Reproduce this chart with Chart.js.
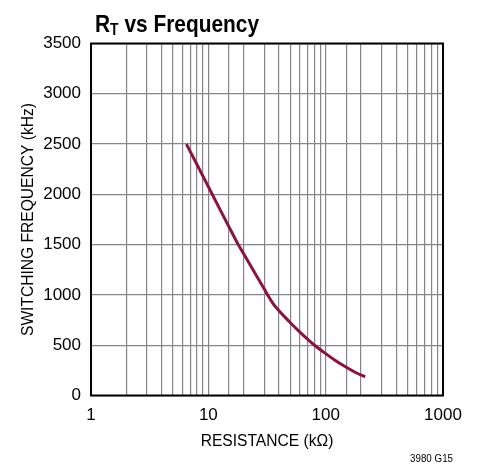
<!DOCTYPE html>
<html>
<head>
<meta charset="utf-8">
<script src="https://cdn.jsdelivr.net/npm/chart.js@4.4.1/dist/chart.umd.min.js"></script>
<style>
  html, body { margin: 0; padding: 0; background: #fff; }
  #wrap { position: relative; width: 478px; height: 467px; }
</style>
</head>
<body>
<div id="wrap"><canvas id="c" width="478" height="467"></canvas></div>
<script>
// ---- data ----
const resistance = [6.5, 8, 10, 12, 15, 18, 20, 25, 30, 32, 36, 40, 45, 50, 60, 70, 81, 100, 120, 150, 180, 217];
const frequency  = [2500, 2297, 2077, 1896, 1677, 1500, 1410, 1216, 1058, 1000, 905, 843, 779, 724, 633, 561, 497, 416, 351, 281, 229, 185];
const xTickLabels = [1, 10, 100, 1000];
const yTicks = { min: 0, max: 3500, step: 500 };
const titleMain = "R";
const titleSub = "T";
const titleRest = " vs Frequency";
const xTitle = "RESISTANCE (k\u03A9)";
const yTitle = "SWITCHING FREQUENCY (kHz)";
const noteText = "3980 G15";

const FONT = "'Liberation Sans', Arial, Helvetica, sans-serif";

const points = resistance.map((r, i) => ({ x: r, y: frequency[i] }));

const framePlugin = {
  id: 'frame',
  afterDraw(chart) {
    const { ctx, chartArea: a } = chart;
    ctx.save();
    ctx.strokeStyle = '#000';
    ctx.lineWidth = 2;
    ctx.strokeRect(a.left, a.top, a.right - a.left, a.bottom - a.top);
    ctx.restore();

    // title (condensed look via horizontal scale)
    ctx.save();
    ctx.fillStyle = '#000';
    ctx.textBaseline = 'alphabetic';
    ctx.textAlign = 'left';
    ctx.translate(95, 0);
    ctx.scale(0.87, 1);
    let x = 0;
    ctx.font = "bold 24px " + FONT;
    ctx.fillText(titleMain, x, 32);
    x += ctx.measureText(titleMain).width;
    ctx.font = "bold 16px " + FONT;
    ctx.fillText(titleSub, x, 35);
    x += ctx.measureText(titleSub).width;
    ctx.font = "bold 24px " + FONT;
    ctx.fillText(titleRest, x, 32);
    ctx.restore();

    // note
    ctx.save();
    ctx.fillStyle = '#000';
    ctx.textBaseline = 'alphabetic';
    ctx.textAlign = 'right';
    ctx.translate(453, 462);
    ctx.scale(0.85, 1);
    ctx.font = "11.5px " + FONT;
    ctx.fillText(noteText, 0, 0);
    ctx.restore();
  }
};

new Chart(document.getElementById('c'), {
  type: 'line',
  data: {
    datasets: [{
      data: points,
      borderColor: '#8c1438',
      borderWidth: 3,
      pointRadius: 0,
      fill: false,
      cubicInterpolationMode: 'monotone'
    }]
  },
  options: {
    responsive: false,
    animation: false,
    events: [],
    layout: { padding: { left: 0, right: 35, top: 43.5, bottom: 0 } },
    plugins: { legend: { display: false }, tooltip: { enabled: false }, title: { display: false } },
    scales: {
      x: {
        type: 'logarithmic',
        min: 1, max: 1000,
        afterFit(s) { s.height = 71.5; },
        grid: { color: '#868686', lineWidth: 1.2, drawTicks: false },
        border: { display: false },
        ticks: {
          autoSkip: false, maxRotation: 0, padding: 9.8,
          color: '#000',
          font: { family: FONT, size: 17 },
          callback: (v) => xTickLabels.includes(v) ? String(v) : ''
        },
        title: {
          display: true, text: xTitle, color: '#000',
          font: { family: FONT, size: 15.6 },
          padding: { top: 0, bottom: 15.6 }
        }
      },
      y: {
        type: 'linear',
        min: yTicks.min, max: yTicks.max,
        afterFit(s) { s.width = 91; },
        grid: { color: '#868686', lineWidth: 1.2, drawTicks: false },
        border: { display: false },
        ticks: {
          stepSize: yTicks.step, padding: 10, color: '#000',
          font: { family: FONT, size: 17 },
          callback: (v) => String(v)
        },
        title: {
          display: true, text: yTitle, color: '#000',
          font: { family: FONT, size: 15.6 },
          padding: { top: 19.1, bottom: 0 }
        }
      }
    }
  },
  plugins: [framePlugin]
});
</script>
</body>
</html>
